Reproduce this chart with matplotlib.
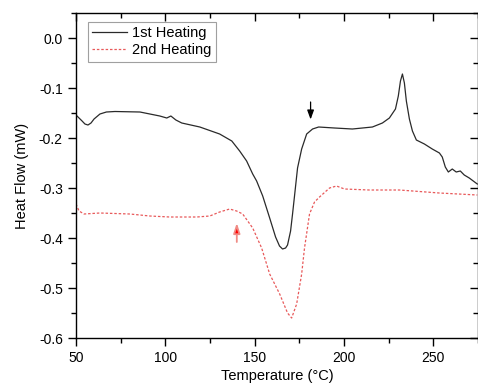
import matplotlib.pyplot as plt
from matplotlib.ticker import MultipleLocator

plt.rcParams['font.family'] = ['Liberation Sans', 'DejaVu Sans']

# 1st heating run
temp1 = [50.0, 53.4, 55.0, 56.7, 58.4, 60.1, 63.4, 67.0, 71.8, 85.8, 96.9, 100.8, 103.1,
         105.9, 109.2, 119.3, 130.4, 137.2, 141.6, 145.5, 148.9, 151.1, 154.5, 158.4,
         161.7, 163.9, 165.6, 167.3, 168.4, 170.1, 171.2, 172.3, 174.0, 176.3, 179.1,
         182.4, 185.8, 194.7, 204.7, 215.9, 221.5, 225.4, 228.8, 230.4, 231.6, 232.7,
         233.8, 234.9, 236.6, 238.3, 240.5, 245.0, 249.4, 253.4, 255.0, 256.7, 258.4,
         260.6, 262.8, 265.1, 267.3, 270.1, 274.6]
flow1 = [-0.154, -0.166, -0.172, -0.174, -0.170, -0.162, -0.152, -0.148, -0.147, -0.148,
         -0.156, -0.160, -0.156, -0.164, -0.170, -0.178, -0.192, -0.206, -0.226, -0.246,
         -0.272, -0.286, -0.316, -0.360, -0.398, -0.416, -0.422, -0.420, -0.414, -0.386,
         -0.352, -0.316, -0.260, -0.222, -0.192, -0.182, -0.178, -0.180, -0.182, -0.178,
         -0.170, -0.160, -0.142, -0.116, -0.086, -0.072, -0.090, -0.126, -0.162, -0.186,
         -0.204, -0.212, -0.222, -0.230, -0.238, -0.258, -0.268, -0.262, -0.268, -0.266,
         -0.274, -0.280, -0.292]

# 2nd heating run
temp2 = [50.0, 51.7, 54.5, 63.4, 80.2, 91.3, 102.5, 117.6, 124.9, 130.4, 136.0, 139.9,
         143.3, 148.9, 153.9, 158.4, 164.0, 168.4, 170.7, 173.5, 176.3, 177.9, 180.7,
         183.5, 186.3, 191.9, 195.8, 200.3, 214.2, 231.0, 253.4, 274.6]
flow2 = [-0.332, -0.346, -0.352, -0.350, -0.352, -0.356, -0.358, -0.358, -0.356, -0.348,
         -0.342, -0.346, -0.352, -0.380, -0.420, -0.472, -0.512, -0.550, -0.560, -0.532,
         -0.472, -0.420, -0.352, -0.328, -0.318, -0.300, -0.296, -0.302, -0.304, -0.304,
         -0.310, -0.314]

fig = plt.figure(figsize=(4.78, 3.87), dpi=100)
ax = fig.add_axes([0.159, 0.1266, 0.841, 0.8398])

ax.plot(temp1, flow1, color='#2a2a2a', lw=0.9, label='1st Heating')
ax.plot(temp2, flow2, color='#e8595a', lw=0.9, linestyle=(0, (2, 1.5)), label='2nd Heating')

# arrows marking transitions
ax.annotate('', xy=(181.3, -0.163), xytext=(181.3, -0.128),
            arrowprops=dict(arrowstyle='-|>,head_length=0.55,head_width=0.2',
                            color='black', lw=0.9, shrinkA=0, shrinkB=0))
ax.annotate('', xy=(140, -0.370), xytext=(140, -0.408),
            arrowprops=dict(arrowstyle='-|>,head_length=0.6,head_width=0.2',
                            ec='#f08c86', fc='red', lw=1.3, shrinkA=0, shrinkB=0))

ax.set_xlim(50, 275)
ax.set_ylim(-0.6, 0.05)
ax.xaxis.set_major_locator(MultipleLocator(50))
ax.xaxis.set_minor_locator(MultipleLocator(25))
ax.yaxis.set_major_locator(MultipleLocator(0.1))
ax.yaxis.set_minor_locator(MultipleLocator(0.05))
ax.yaxis.set_major_formatter(plt.FormatStrFormatter('%.1f'))

# outward ticks on bottom/left, inward on top/right
ax.tick_params(which='both', labelsize=10, direction='out', top=True, right=True)
ax.tick_params(which='major', length=6, width=1)
ax.tick_params(which='minor', length=3.5, width=1)
for t in ax.xaxis.get_ticklines(minor=False)[1::2] + ax.xaxis.get_ticklines(minor=True)[1::2]:
    t.set_marker(3)
for t in ax.yaxis.get_ticklines(minor=False)[1::2] + ax.yaxis.get_ticklines(minor=True)[1::2]:
    t.set_marker(0)

for s in ax.spines.values():
    s.set_linewidth(1)

ax.set_xlabel('Temperature (°C)', fontsize=10.5, labelpad=3)
ax.set_ylabel('Heat Flow (mW)', fontsize=10.5, labelpad=7)

leg = ax.legend(loc='upper left', fontsize=10.5, frameon=True, fancybox=False,
                handlelength=2.4, handletextpad=0.3, borderpad=0.3, labelspacing=0.2,
                bbox_to_anchor=(0.03, 0.972), borderaxespad=0)
leg.get_frame().set_edgecolor('#888888')
leg.get_frame().set_linewidth(0.8)

fig.savefig('out.png', dpi=100)
